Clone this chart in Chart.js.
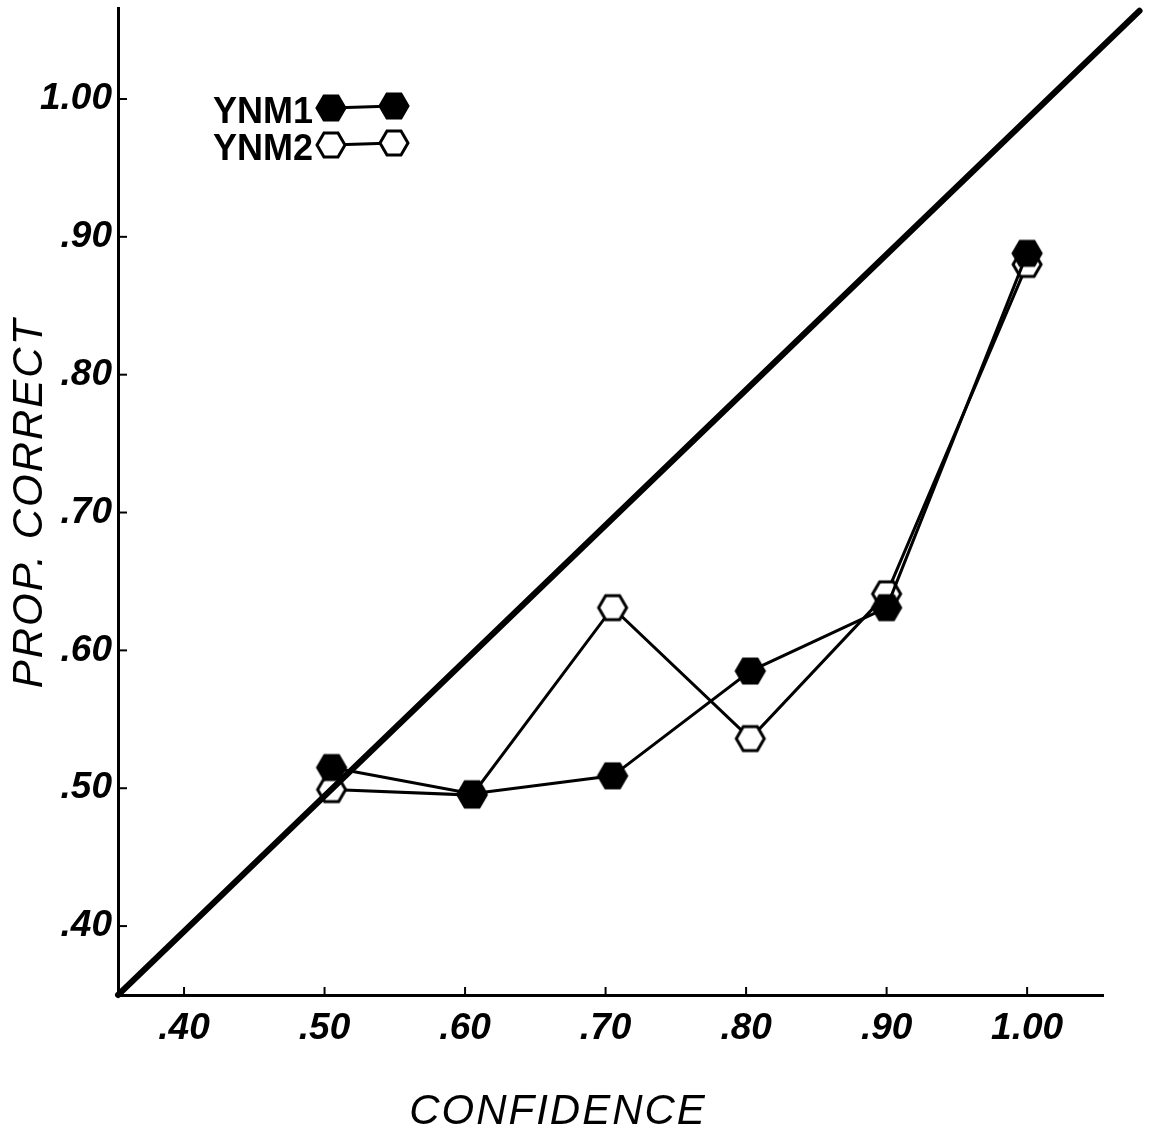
<!DOCTYPE html>
<html>
<head>
<meta charset="utf-8">
<script src="https://cdn.jsdelivr.net/npm/chart.js@4.4.1/dist/chart.umd.min.js"></script>
<style>
  html, body { margin: 0; padding: 0; background: #fff; }
  #wrap { width: 1152px; height: 1140px; }
</style>
</head>
<body>
<div id="wrap"><canvas id="chart" width="1152" height="1140"></canvas></div>
<script>
// Data
const confidence = [0.505, 0.605, 0.705, 0.803, 0.90, 1.00];
const ynm1 = [0.515, 0.496, 0.509, 0.585, 0.631, 0.888];
const ynm2 = [0.499, 0.495, 0.631, 0.536, 0.641, 0.880];
const seriesLabels = ['YNM1', 'YNM2'];

// reference (perfect calibration) line, as drawn
const diagX = [0.353, 1.08];
const diagY = [0.35, 1.064];

const tickValues = [0.40, 0.50, 0.60, 0.70, 0.80, 0.90, 1.00];
const tickLabels = ['.40', '.50', '.60', '.70', '.80', '.90', '1.00'];

const xTitle = 'CONFIDENCE';
const yTitle = 'PROP. CORRECT';

const INK = '#000';
const TICK_FONT = { family: '"Liberation Sans", Arial, sans-serif', size: 37, style: 'italic', weight: 'bold' };
const TITLE_FONT = 'italic 42px "Liberation Sans", Arial, sans-serif';
const LEGEND_FONT = 'bold 36px "Liberation Sans", Arial, sans-serif';

function hexPath(ctx, cx, cy, r) {
  ctx.beginPath();
  for (let i = 0; i < 6; i++) {
    const a = Math.PI / 3 * i;
    const px = cx + r * Math.cos(a);
    const py = cy + r * Math.sin(a);
    if (i === 0) ctx.moveTo(px, py); else ctx.lineTo(px, py);
  }
  ctx.closePath();
}

function drawHex(ctx, cx, cy, r, filled) {
  hexPath(ctx, cx, cy, r);
  ctx.fillStyle = filled ? INK : '#fff';
  ctx.fill();
  ctx.lineWidth = 3;
  ctx.strokeStyle = INK;
  ctx.stroke();
}

function hexImage(filled) {
  const c = document.createElement('canvas');
  c.width = 34;
  c.height = 30;
  drawHex(c.getContext('2d'), 17, 15, 14, filled);
  return c;
}

const filledHex = hexImage(true);
const openHex = hexImage(false);

const toPoints = (xs, ys) => xs.map((x, i) => ({ x, y: ys[i] }));

// inward tick marks, axis titles and the legend
const decorations = {
  id: 'decorations',
  afterDraw(chart) {
    const ctx = chart.ctx;
    const xs = chart.scales.x;
    const ys = chart.scales.y;
    const area = chart.chartArea;
    ctx.save();
    ctx.strokeStyle = INK;
    ctx.lineWidth = 2;
    tickValues.forEach(v => {
      const px = xs.getPixelForValue(v);
      ctx.beginPath();
      ctx.moveTo(px, area.bottom);
      ctx.lineTo(px, area.bottom - 8);
      ctx.stroke();
      const py = ys.getPixelForValue(v);
      ctx.beginPath();
      ctx.moveTo(area.left, py);
      ctx.lineTo(area.left + 9, py);
      ctx.stroke();
    });

    // axis titles
    ctx.fillStyle = INK;
    ctx.font = TITLE_FONT;
    ctx.letterSpacing = '2px';
    ctx.textAlign = 'center';
    ctx.textBaseline = 'middle';
    ctx.fillText(xTitle, 558, 1112);
    ctx.translate(30, 503);
    ctx.rotate(-Math.PI / 2);
    ctx.fillText(yTitle, 0, 0);
    ctx.restore();

    // legend: label then marker-line-marker
    ctx.save();
    ctx.font = LEGEND_FONT;
    ctx.fillStyle = INK;
    ctx.textAlign = 'right';
    ctx.textBaseline = 'alphabetic';
    const rows = [
      { label: seriesLabels[0], y: 108, filled: true, baseline: 123 },
      { label: seriesLabels[1], y: 145, filled: false, baseline: 160 }
    ];
    rows.forEach(r => {
      ctx.fillText(r.label, 313, r.baseline);
      ctx.strokeStyle = INK;
      ctx.lineWidth = 3;
      ctx.beginPath();
      ctx.moveTo(331, r.y);
      ctx.lineTo(394, r.y - 2);
      ctx.stroke();
      drawHex(ctx, 331, r.y, 14, r.filled);
      drawHex(ctx, 394, r.y - 2, 14, r.filled);
    });
    ctx.restore();
  }
};

new Chart(document.getElementById('chart'), {
  type: 'line',
  data: {
    datasets: [
      {
        label: 'diagonal',
        data: toPoints(diagX, diagY),
        borderColor: INK,
        borderWidth: 6,
        borderCapStyle: 'round',
        pointRadius: 0,
        clip: false,
        order: 0
      },
      {
        label: seriesLabels[0],
        data: toPoints(confidence, ynm1),
        borderColor: INK,
        borderWidth: 3,
        pointStyle: filledHex,
        order: 1
      },
      {
        label: seriesLabels[1],
        data: toPoints(confidence, ynm2),
        borderColor: INK,
        borderWidth: 3,
        pointStyle: openHex,
        order: 2
      }
    ]
  },
  options: {
    responsive: false,
    animation: false,
    layout: { padding: { top: 8, right: 49, left: 0, bottom: 0 } },
    plugins: {
      legend: { display: false },
      tooltip: { enabled: false }
    },
    scales: {
      x: {
        type: 'linear',
        min: 0.353,
        max: 1.054,
        afterBuildTicks: s => { s.ticks = tickValues.map(v => ({ value: v })); },
        afterFit: s => { s.height = 145; s.paddingLeft = 0; s.paddingRight = 0; },
        grid: { display: false, drawTicks: false },
        border: { display: true, color: INK, width: 3 },
        ticks: {
          color: INK,
          font: TICK_FONT,
          padding: 12,
          maxRotation: 0,
          callback: (v, i) => tickLabels[i]
        }
      },
      y: {
        type: 'linear',
        min: 0.35,
        max: 1.066,
        afterBuildTicks: s => { s.ticks = tickValues.map(v => ({ value: v })); },
        afterFit: s => { s.width = 118; s.paddingTop = 0; s.paddingBottom = 0; },
        grid: { display: false, drawTicks: false },
        border: { display: true, color: INK, width: 3 },
        ticks: {
          color: INK,
          font: TICK_FONT,
          padding: 6,
          callback: (v, i) => tickLabels[i]
        }
      }
    }
  },
  plugins: [decorations]
});
</script>
</body>
</html>
